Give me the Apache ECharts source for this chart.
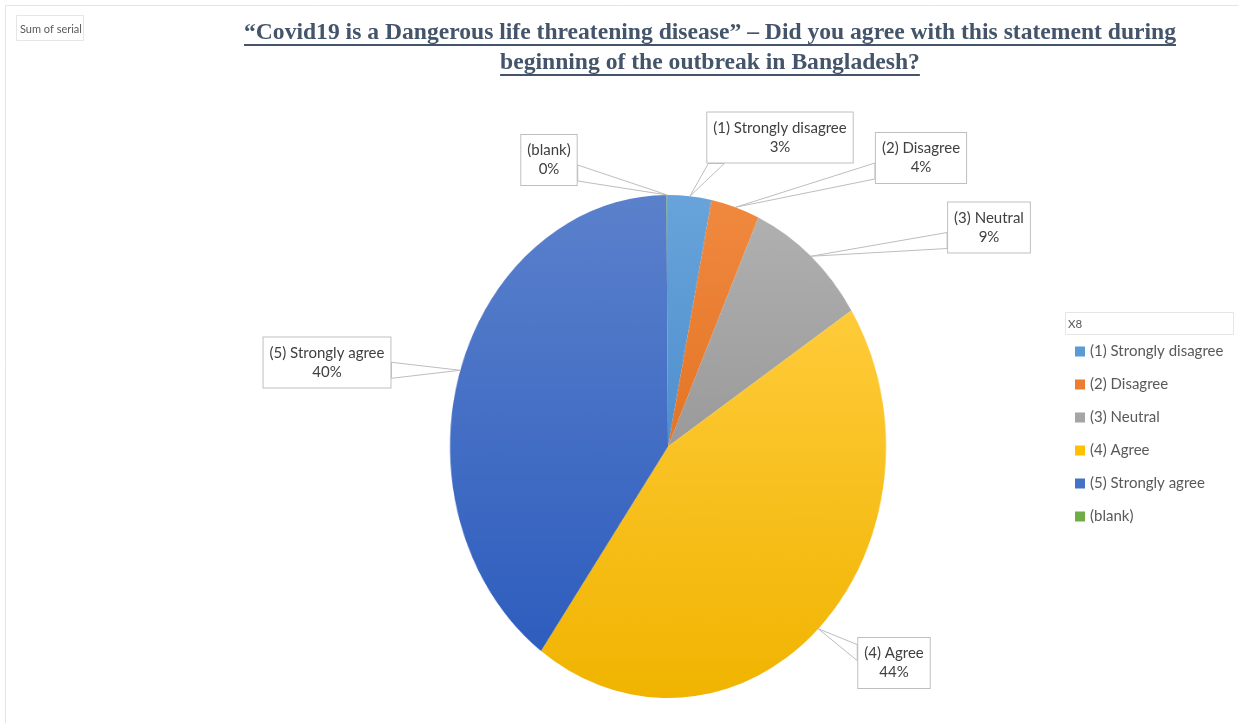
<!DOCTYPE html>
<html>
<head>
<meta charset="utf-8">
<script src="https://cdn.jsdelivr.net/npm/echarts@6/dist/echarts.min.js"></script>
<style>
  html, body { margin: 0; padding: 0; background: #fff; overflow: hidden; }
  #wrap { position: relative; width: 1238px; height: 723px; }
  #pie, #main { position: absolute; left: 0; top: 0; width: 1238px; height: 723px; }
  /* the pie layer is squeezed horizontally so the disc becomes an upright ellipse */
  #pie { transform: scaleX(0.8668); transform-origin: 668px 0; }
</style>
</head>
<body>
<div id="wrap"><div id="pie"></div><div id="main"></div></div>
<script>
// ---- data ----
const categories = ['(1) Strongly disagree', '(2) Disagree', '(3) Neutral', '(4) Agree', '(5) Strongly agree', '(blank)'];
const shares = [3.2, 3.6, 9.1, 44.0, 40.0, 0.1];
const titleLines = [
  '\u201CCovid19 is a Dangerous life threatening disease\u201D \u2013 Did you agree with this statement during',
  'beginning of the outbreak in Bangladesh?'
];
const fieldLabel = 'Sum of serial';
const legendTitle = 'X8';

// ---- styles / layout ----
const baseColors   = ['#5B9BD5', '#ED7D31', '#A5A5A5', '#FFC000', '#4472C4', '#70AD47'];
const topColors    = ['#68A4DB', '#F0893F', '#B0B0B0', '#FFCB3A', '#5B81CC', '#7CB856'];
const bottomColors = ['#4F8FCD', '#E47425', '#9A9A9A', '#F0B400', '#2E5DBE', '#63A13D'];
const labelCenters = [[780, 137.5], [921, 158], [989, 227.5], [894, 663], [327, 362.5], [549, 160]];
const CX = 668, CY = 446.5, R = 251.5, SQUEEZE = 0.8668;
const labelFont = 'Lato, "Open Sans", sans-serif';
const labelSize = 15;
const titleFont = '"Liberation Serif", "Times New Roman", serif';
const titleSize = 23.6;
const titleColor = '#44546A';

// ---- pie layer ----
const pieChart = echarts.init(document.getElementById('pie'));
pieChart.setOption({
  animation: false,
  series: [{
    type: 'pie',
    silent: true,
    center: [CX, CY],
    radius: R,
    startAngle: 90,
    clockwise: true,
    label: { show: false },
    labelLine: { show: false },
    data: categories.map((c, i) => ({
      name: c,
      value: shares[i],
      itemStyle: {
        color: new echarts.graphic.LinearGradient(0, 0, 0, 1, [
          { offset: 0, color: topColors[i] },
          { offset: 1, color: bottomColors[i] }
        ])
      }
    }))
  }]
});

// ---- text layer: title, legend and callouts ----
const measure = document.createElement('canvas').getContext('2d');
measure.font = 'bold ' + titleSize + 'px ' + titleFont;
const titleWidths = titleLines.map(t => measure.measureText(t).width);
const titleX = 710;
const titleY = [32.5, 62.5];
const underlineY = [45, 75];

const clamp = (v, a, b) => Math.max(a, Math.min(b, v));

function placeCallout(p) {
  const c = labelCenters[p.dataIndex];
  const w = p.labelRect.width, h = p.labelRect.height;
  const a = p.labelLinePoints[0];
  const ax = CX + (a[0] - CX) * SQUEEZE, ay = a[1];
  const L = c[0] - w / 2, Rt = c[0] + w / 2, T = c[1] - h / 2, B = c[1] + h / 2;
  const half = 8;
  let p1, p2;
  if (ay > B && ax > L - 40 && ax < Rt) {
    const bx = clamp(ax, L + half + 2, Rt - half - 2);
    p1 = [bx - half, B]; p2 = [bx + half, B];
  } else {
    const ex = ax > Rt ? Rt : L;
    const by = clamp(ay, T + 0.3 * h, T + 0.75 * h);
    p1 = [ex, by - half]; p2 = [ex, by + half];
  }
  return {
    x: c[0], y: c[1], align: 'center', verticalAlign: 'middle',
    labelLinePoints: [[ax, ay], p1, p2, [ax, ay]]
  };
}

const graphics = [
  { type: 'rect', silent: true, z: -10, shape: { x: 5.5, y: 5.5, width: 1300, height: 800 },
    style: { fill: 'none', stroke: '#E4E4E4', lineWidth: 1 } },
  { type: 'rect', silent: true, shape: { x: 16.5, y: 15.5, width: 67, height: 25 },
    style: { fill: '#fff', stroke: '#E6E6E6', lineWidth: 1 } },
  { type: 'text', silent: true, x: 20, y: 29,
    style: { text: fieldLabel, font: '11px ' + labelFont, fill: '#595959', verticalAlign: 'middle' } },
  { type: 'rect', silent: true, shape: { x: 1065.5, y: 312.5, width: 168, height: 22 },
    style: { fill: '#fff', stroke: '#E6E6E6', lineWidth: 1 } },
  { type: 'text', silent: true, x: 1068, y: 324,
    style: { text: legendTitle, font: '11.5px ' + labelFont, fill: '#595959', verticalAlign: 'middle' } }
];
titleLines.forEach((t, i) => {
  graphics.push({ type: 'text', silent: true, x: titleX, y: titleY[i],
    style: { text: t, font: 'bold ' + titleSize + 'px ' + titleFont, fill: titleColor,
             align: 'center', verticalAlign: 'middle' } });
  graphics.push({ type: 'line', silent: true,
    shape: { x1: titleX - titleWidths[i] / 2, y1: underlineY[i], x2: titleX + titleWidths[i] / 2, y2: underlineY[i] },
    style: { stroke: titleColor, lineWidth: 2 } });
});

const main = echarts.init(document.getElementById('main'));
main.setOption({
  animation: false,
  legend: {
    orient: 'vertical',
    left: 1075,
    top: 344,
    padding: 0,
    icon: 'rect',
    itemWidth: 10,
    itemHeight: 10,
    itemGap: 18,
    selectedMode: false,
    textStyle: { fontFamily: labelFont, fontSize: labelSize, color: '#595959' },
    data: categories.map((c, i) => ({ name: c, itemStyle: { color: baseColors[i], opacity: 1 } }))
  },
  graphic: graphics,
  series: [{
    type: 'pie',
    silent: true,
    center: [CX, CY],
    radius: R,
    startAngle: 90,
    clockwise: true,
    itemStyle: { color: 'rgba(0,0,0,0)' },
    emphasis: { disabled: true },
    label: {
      show: true,
      position: 'outside',
      formatter: p => p.name + '\n' + Math.round(p.percent) + '%',
      fontFamily: labelFont,
      fontSize: labelSize,
      lineHeight: 19,
      color: '#404040',
      align: 'center',
      backgroundColor: '#fff',
      borderColor: '#BFBFBF',
      borderWidth: 1,
      padding: [6, 6]
    },
    labelLine: { show: true, length: 20, length2: 20, lineStyle: { color: '#BDBDBD', width: 1 } },
    labelLayout: placeCallout,
    data: categories.map((c, i) => ({ name: c, value: shares[i] }))
  }]
});
</script>
</body>
</html>
